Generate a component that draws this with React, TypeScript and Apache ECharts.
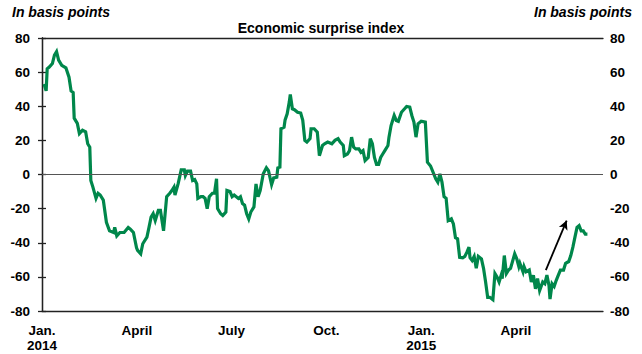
import React, { useEffect, useRef } from "react";
import * as echarts from "echarts";

// Days since 2014-01-01 for each observation
const dayOffsets = [2,4,5,7,10,12,14,16,19,23,26,28,30,31,34,36,39,42,44,46,47,49,52,54,56,59,62,65,69,70,72,75,79,83,85,88,91,92,95,97,101,103,105,107,109,111,112,114,117,120,123,125,127,128,131,134,137,138,140,143,145,147,149,150,153,155,157,159,161,164,166,168,169,172,174,177,178,181,183,185,189,191,193,195,197,199,201,204,206,208,210,213,216,218,221,223,226,227,229,230,233,234,236,238,239,241,243,246,249,251,253,255,258,259,262,265,267,270,272,275,279,282,285,287,290,291,294,296,298,300,302,305,307,309,311,314,316,318,320,322,324,326,328,330,333,334,336,339,341,343,346,349,351,354,356,358,360,362,365,369,371,374,379,381,383,385,387,389,391,394,396,398,400,402,405,407,409,411,412,414,416,418,420,423,425,427,429,431,434,436,438,440,442,443,445,447,449,451,455,457,459,460,463,464,466,469,471,473,475,477,479,482,484,486,488,489,491,493,495,497,499,502,504,507,509,511,513,515,517,519,521,523,525];

// Economic surprise index, basis points
const surpriseValues = [53,49,62,63,65,70,72,67,64,62.5,57,49,48,33,30,24,26,25,18,16,-3.5,-7.4,-14,-11,-12,-15,-28,-33,-34,-31,-36,-34,-34,-31,-32,-34,-43,-44.5,-46.5,-40.6,-36.7,-31,-25,-23,-27,-23,-21,-21,-33,-13,-11,-9.4,-7.4,-12,-5.5,2.7,2.7,-0.6,2,2,-3.5,-3,-5.5,-14,-13,-13,-14,-20,-13,-11,-11,-2.5,-20,-23,-24,-22,-9.4,-10,-13,-12,-14,-13,-17,-18,-23,-26,-22,-19,-5.5,-13,-9.4,0.4,3.9,2.3,-5.9,-2,-1.6,3.9,4.3,26.8,27.7,32,35.6,42.4,46.9,38.5,38,36.5,36,31.7,20,19,21,26.8,26.8,24.8,11,17,18,19,18,20,21,19,17,11,12,14,21.9,16,15,15,13,14,8.2,10,21,18,10,5.9,5.9,10,12,14,17,21.9,28.7,34.6,31.7,31.2,36.5,38.5,39.9,39.5,34.6,30.7,21.9,29.7,31.2,30.7,7.2,5,-2.5,-4.5,0.4,-4.5,-13,-14,-27,-26,-29,-37,-37.7,-48.5,-48.8,-48,-45.5,-42.6,-48.8,-50.4,-48,-55,-48,-49.4,-55,-63,-72,-72,-73.4,-58,-60,-63,-59,-61,-47.5,-58,-56,-55,-46.5,-49.4,-54,-52,-57,-54,-57,-56,-63,-59,-67,-61,-68,-63,-64,-59,-65,-73,-64,-65.6,-62,-59,-56,-56,-52,-51,-47.5,-42.6,-36.7,-31,-30,-33,-33,-35,-35];

const xTickDays = [0, 91.25, 182.5, 273.75, 365, 456.25];
const xTickLabels = ["Jan.\n2014", "April", "July", "Oct.", "Jan.\n2015", "April"];
const yTicks = [-80, -60, -40, -20, 0, 20, 40, 60, 80];

// Arrow annotation (day, value)
const arrowStart = [485, -56];
const arrowEnd = [505, -27];

const FONT = "'Liberation Sans', Arial, sans-serif";

export default function App() {
  const ref = useRef<HTMLDivElement>(null);
  useEffect(() => {
    if (!ref.current) return;
    document.body.style.margin = "0";
    const chart = echarts.init(ref.current, null, { renderer: "svg" });
    const axisLabelStyle = {
      fontFamily: FONT,
      fontWeight: "bold" as const,
      fontSize: 13.5,
      color: "#000",
    };
    const yBase = {
      type: "value" as const,
      min: yTicks[0],
      max: yTicks[yTicks.length - 1],
      interval: 20,
      axisLine: { show: true, lineStyle: { color: "#222", width: 1.3 } },
      axisTick: { show: true, inside: false, length: 4, lineStyle: { color: "#222", width: 1.3 } },
      splitLine: { show: false },
    };
    chart.setOption({
      animation: false,
      backgroundColor: "#fff",
      grid: { left: 42, right: 39, top: 38, bottom: 43, containLabel: false },
      title: {
        text: "Economic surprise index",
        left: "center",
        top: 16,
        textStyle: { fontFamily: FONT, fontWeight: "bold", fontSize: 14, color: "#000" },
      },
      graphic: [
        {
          type: "text",
          left: 12,
          top: 5,
          style: { text: "In basis points", font: `italic bold 14px ${FONT}`, fill: "#000" },
        },
        {
          type: "text",
          right: 10,
          top: 5,
          style: { text: "In basis points", font: `italic bold 14px ${FONT}`, fill: "#000" },
        },
      ],
      xAxis: [
        {
          type: "value",
          min: 0,
          max: 540,
          interval: 91.25,
          position: "bottom",
          axisLine: { show: true, onZero: false, lineStyle: { color: "#222", width: 1.3 } },
          axisTick: { show: false },
          splitLine: { show: false },
          axisLabel: {
            ...axisLabelStyle,
            margin: 12,
            lineHeight: 15,
            showMaxLabel: false,
            formatter: (v: number) => {
              const i = xTickDays.findIndex((d) => Math.abs(d - v) < 0.01);
              return i >= 0 ? xTickLabels[i] : "";
            },
          },
        },
        {
          type: "value",
          min: 0,
          max: 540,
          position: "top",
          axisLine: { show: true, onZero: false, lineStyle: { color: "#222", width: 1.3 } },
          axisTick: { show: false },
          splitLine: { show: false },
          axisLabel: { show: false },
        },
      ],
      yAxis: [
        { ...yBase, position: "left", axisLabel: { ...axisLabelStyle, margin: 12 } },
        { ...yBase, position: "right", axisLabel: { ...axisLabelStyle, margin: 7 } },
      ],
      series: [
        {
          type: "line",
          name: "zero",
          data: [],
          z: 1,
          silent: true,
          markLine: {
            silent: true,
            symbol: "none",
            label: { show: false },
            lineStyle: { color: "#555", width: 1, type: "solid" },
            data: [{ yAxis: 0 }],
          },
        },
        {
          type: "line",
          name: "Economic surprise index",
          z: 3,
          showSymbol: false,
          symbol: "none",
          lineStyle: { color: "#00874b", width: 3.2, join: "miter" },
          data: dayOffsets.map((d, i) => [d, surpriseValues[i]]),
        },
        {
          type: "line",
          name: "arrow",
          data: [],
          z: 4,
          silent: true,
          markLine: {
            silent: true,
            symbol: ["none", "arrow"],
            symbolSize: [7, 9],
            label: { show: false },
            lineStyle: { color: "#000", width: 1.8, type: "solid" },
            data: [[{ coord: arrowStart }, { coord: arrowEnd }]],
          },
        },
      ],
    });
    return () => chart.dispose();
  }, []);
  return <div ref={ref} style={{ width: 642, height: 354 }} />;
}
